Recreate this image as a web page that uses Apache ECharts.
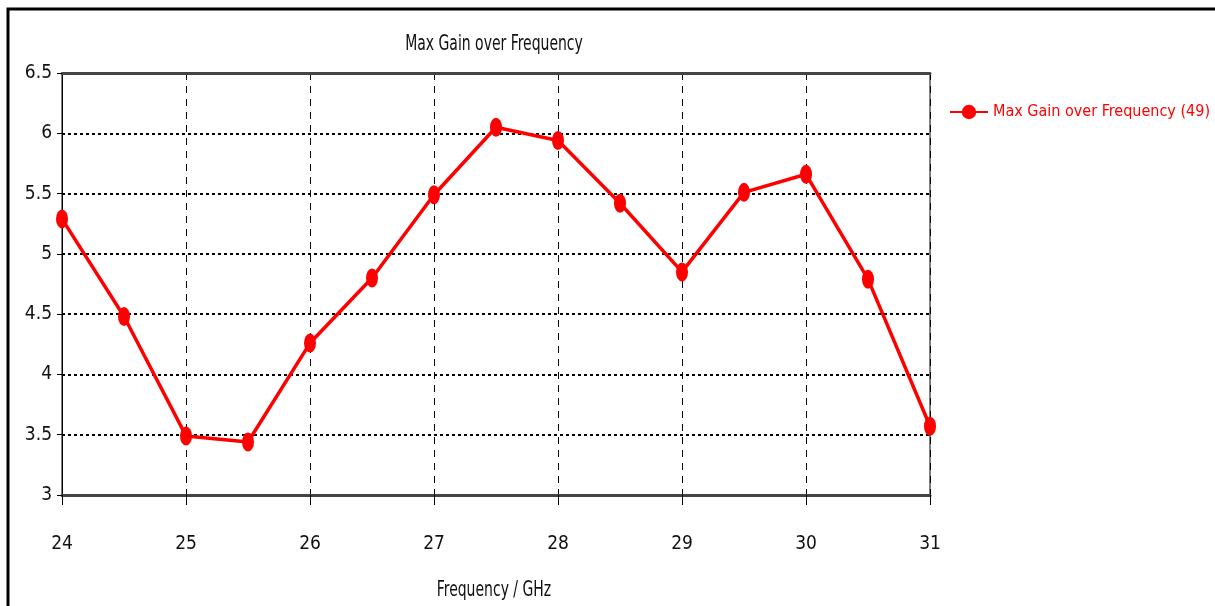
<!DOCTYPE html>
<html>
<head>
<meta charset="utf-8">
<style>
  html, body { margin: 0; padding: 0; background: #fff; }
  #chart { width: 1215px; height: 606px; }
</style>
<script src="https://cdn.jsdelivr.net/npm/echarts@6/dist/echarts.min.js"></script>
</head>
<body>
<div id="chart"></div>
<script>
const freq = [24, 24.5, 25, 25.5, 26, 26.5, 27, 27.5, 28, 28.5, 29, 29.5, 30, 30.5, 31]
const gain = [5.29, 4.48, 3.49, 3.44, 4.26, 4.8, 5.49, 6.05, 5.94, 5.42, 4.85, 5.51, 5.66, 4.79, 3.57]
const seriesName = 'Max Gain over Frequency (49)'
const titleText = 'Max Gain over Frequency'
const xName = 'Frequency / GHz'

const font = '"DejaVu Sans Condensed", "Liberation Sans Narrow", sans-serif'

const chart = echarts.init(document.getElementById('chart'))

// narrow, tall text like the original (scaled horizontally)
const narrowText = (text, x, y) => ({
  type: 'text',
  x: x,
  y: y,
  scaleX: 0.74,
  style: {
    text: text,
    fontFamily: font,
    fontSize: 21,
    fill: '#111',
    textAlign: 'center',
    textVerticalAlign: 'middle',
  },
})

const option = {
  animation: false,
  textStyle: { fontFamily: font },
  legend: {
    left: 944,
    top: 99,
    itemWidth: 38,
    itemHeight: 18,
    textStyle: { fontFamily: font, fontSize: 16, color: '#ff0000' },
    data: [seriesName],
  },
  graphic: [
    {
      type: 'polyline',
      shape: { points: [[8, 606], [8, 9], [1215, 9]] },
      style: { stroke: '#000', lineWidth: 3, fill: null },
    },
    narrowText(titleText, 494, 45),
    narrowText(xName, 494, 591),
  ],
  grid: {
    left: 62,
    right: 285,
    top: 73,
    bottom: 111,
    show: true,
    borderColor: '#000',
    borderWidth: 1,
  },
  xAxis: [
    {
      type: 'value',
      min: 24,
      max: 31,
      interval: 1,
      axisLine: { lineStyle: { color: '#444', width: 3 } },
      axisTick: { show: true, length: 10, lineStyle: { color: '#000', width: 1 } },
      axisLabel: { fontFamily: font, fontSize: 19, color: '#111', margin: 40 },
      splitLine: { show: true, lineStyle: { color: '#000', type: [7, 6], width: 1 } },
    },
    {
      type: 'value',
      position: 'top',
      min: 24,
      max: 31,
      interval: 1,
      axisLine: { lineStyle: { color: '#444', width: 3 } },
      axisTick: { show: false },
      axisLabel: { show: false },
      splitLine: { show: false },
    },
  ],
  yAxis: {
    type: 'value',
    min: 3,
    max: 6.5,
    interval: 0.5,
    axisLine: { show: true, lineStyle: { color: '#000', width: 1 } },
    axisTick: { show: true, length: 5, lineStyle: { color: '#000' } },
    axisLabel: { fontFamily: font, fontSize: 19, color: '#111', margin: 10 },
    splitLine: { show: true, lineStyle: { color: '#000', type: [3, 3], width: 2 } },
  },
  series: [
    {
      name: seriesName,
      type: 'line',
      data: freq.map((f, i) => [f, gain[i]]),
      symbol: 'circle',
      symbolSize: [12, 19],
      lineStyle: { color: '#ff0000', width: 3.5 },
      itemStyle: { color: '#ff0000' },
      z: 5,
    },
  ],
}

chart.setOption(option)
</script>
</body>
</html>
